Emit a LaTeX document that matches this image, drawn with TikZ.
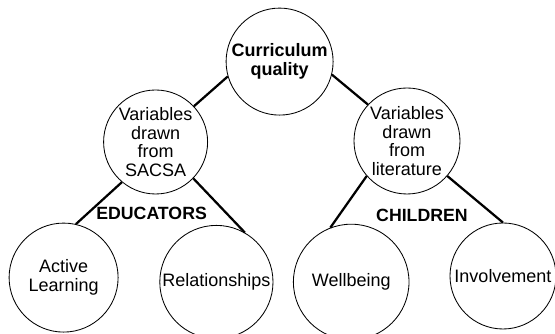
\documentclass[tikz,border=0pt]{standalone}
\usepackage{fontspec}
\setmainfont{Liberation Sans}
\usepackage{tikz}
\usetikzlibrary{shapes.geometric}
\tikzset{
	bubble/.style={draw, circle, line width=0.6pt, inner sep=0pt, align=center, font=\fontsize{12.8}{13.3}\selectfont},
	link/.style={line width=1.6pt},
	grouplabel/.style={font=\fontsize{12.6}{13}\selectfont\bfseries, inner sep=0pt}
}

\begin{document}
\begin{tikzpicture}
		%%%%% START %%%%%
		\useasboundingbox (0, 0) rectangle (13.875, 8.35);
		
		\node[bubble, minimum size=2.675cm] (cq) at (6.99, 6.81) {\textbf{Curriculum}\\\textbf{quality}};
		
		\node[bubble, minimum size=2.6cm] (sacsa) at (3.89, 4.80) {Variables\\drawn\\from\\SACSA};
		\node[bubble, minimum size=2.65cm] (lit) at (10.175, 4.825) {Variables\\drawn\\from\\literature};
		
		\node[bubble, minimum size=2.725cm] (active) at (1.59, 1.41) {Active\\Learning};
		\node[bubble, minimum size=2.83cm] (rel) at (5.41, 1.30) {Relationships};
		\node[bubble, minimum size=2.89cm] (well) at (8.78, 1.30) {Wellbeing};
		\node[bubble, minimum size=2.65cm] (inv) at (12.575, 1.45) {Involvement};
		
		\node[grouplabel] (educ) at (3.79, 3.025) {EDUCATORS};
		\node[grouplabel] (chil) at (10.55, 2.975) {CHILDREN};
		
		\draw[link] (cq.196) -- (sacsa.43);
		\draw[link] (cq.346) -- (lit.137);
		\draw[link] (sacsa.230) -- (active.77);
		\draw[link] (sacsa.316) -- (rel.60);
		\draw[link] (lit.221) -- (well.111);
		\draw[link] (lit.319) -- (inv.90);
		%%%%% END %%%%%
	\end{tikzpicture}
\end{document}
